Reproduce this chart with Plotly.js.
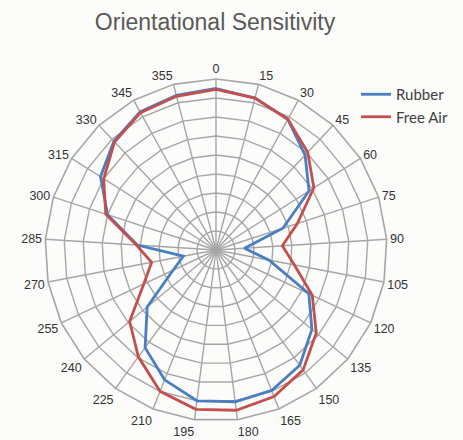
<!DOCTYPE html>
<html>
<head>
<meta charset="utf-8">
<script src="https://cdn.plot.ly/plotly-3.0.1.min.js"></script>
<style>
  html, body { margin: 0; padding: 0; background: #fcfcfa; }
  #chart { width: 463px; height: 440px; }
</style>
</head>
<body>
<div id="chart"></div>
<script>
// Angular categories (degrees, as labelled in the reference)
const angles = ['0','15','30','45','60','75','90','105','120','135','150','165','180',
                '195','210','225','240','255','270','285','300','315','330','345','355'];

// Series values (radial units; radial axis runs 0-90 with a ring every 10)
const rubber  = [85, 82.5, 78.5, 68.5, 58, 37, 15, 28.5, 54, 65.5, 75, 79.5, 80.5,
                 80, 73.5, 63.5, 47, 25, 17.5, 41.5, 60, 72, 78.5, 83, 84];
const freeAir = [84.5, 82.5, 78.5, 70.5, 61, 45, 35, 42, 56, 68.5, 78, 83, 85,
                 84.5, 80, 69.5, 59, 42, 34.5, 42, 61, 70, 78, 82.5, 83.5];

const seriesNames = ['Rubber', 'Free Air'];
const seriesColors = ['#4a7ec2', '#c4504d'];

function closed(arr) { return arr.concat([arr[0]]); }

const traces = [rubber, freeAir].map((vals, i) => ({
  type: 'scatterpolar',
  mode: 'lines',
  name: seriesNames[i],
  r: closed(vals),
  theta: closed(angles),
  line: { color: seriesColors[i], width: 2.8 },
  hoverinfo: 'skip'
}));

const W = 463, H = 440;
const cx = 216, cy = 250, R = 171;

const layout = {
  width: W, height: H,
  margin: { l: 0, r: 0, t: 0, b: 0, pad: 0 },
  paper_bgcolor: '#fcfcfa',
  plot_bgcolor: '#fcfcfa',
  font: { family: 'Liberation Sans, Arial, sans-serif', color: '#333' },
  title: {
    text: 'Orientational Sensitivity',
    font: { family: 'Liberation Sans, Arial, sans-serif', size: 23, color: '#595959' },
    x: 215 / W, xanchor: 'center',
    y: 1 - 22 / H, yanchor: 'middle'
  },
  showlegend: true,
  legend: {
    x: 356 / W, xanchor: 'left',
    y: 1 - 78 / H, yanchor: 'top',
    font: { family: 'Lato, Liberation Sans, sans-serif', size: 15, color: '#404040' },
    bgcolor: 'rgba(0,0,0,0)',
    tracegroupgap: 0,
    itemwidth: 30
  },
  polar: {
    domain: {
      x: [(cx - R) / W, (cx + R) / W],
      y: [(H - cy - R) / H, (H - cy + R) / H]
    },
    bgcolor: '#fcfcfa',
    gridshape: 'linear',
    radialaxis: {
      range: [0, 90],
      dtick: 10,
      tick0: 0,
      showticklabels: false,
      ticks: '',
      showline: false,
      showgrid: true,
      gridcolor: '#a6a6a6',
      gridwidth: 1.4
    },
    angularaxis: {
      type: 'category',
      categoryorder: 'array',
      categoryarray: angles,
      direction: 'clockwise',
      rotation: 90,
      ticks: '',
      showline: true,
      linecolor: '#a6a6a6',
      linewidth: 1.6,
      gridcolor: '#a6a6a6',
      gridwidth: 1.4,
      tickfont: { family: 'Liberation Sans, Arial, sans-serif', size: 12.5, color: '#333' }
    }
  }
};

Plotly.newPlot('chart', traces, layout, { displayModeBar: false, staticPlot: true });
</script>
</body>
</html>
